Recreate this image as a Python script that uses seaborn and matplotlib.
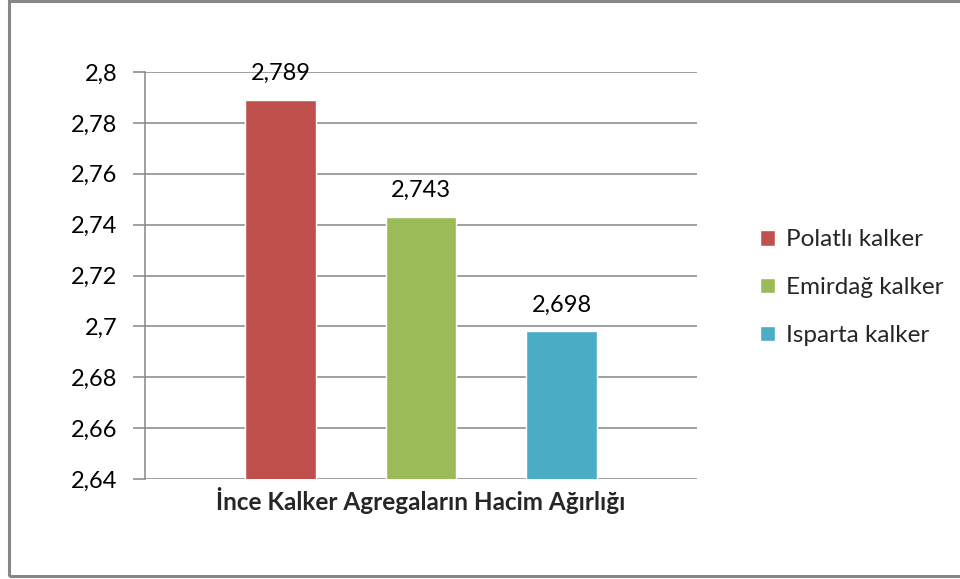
import matplotlib
matplotlib.use("Agg")
import matplotlib.pyplot as plt
from matplotlib.patches import Rectangle
from matplotlib.ticker import FuncFormatter, MultipleLocator
import seaborn as sns
import pandas as pd

category = "İnce Kalker Agregaların Hacim Ağırlığı"
series = ["Polatlı kalker", "Emirdağ kalker", "Isparta kalker"]
values = [2.789, 2.743, 2.698]
colors = ["#C0504D", "#9BBB59", "#4BACC6"]

df = pd.DataFrame({"grup": [category] * len(series), "seri": series, "deger": values})

sns.set_theme(style="white")
plt.rcParams["font.family"] = ["Lato", "DejaVu Sans"]

fig = plt.figure(figsize=(9.6, 5.79), dpi=100)
ax = fig.add_axes([0.151, 0.1727, 0.575, 0.7029])

sns.barplot(data=df, x="grup", y="deger", hue="seri", palette=colors,
            width=0.764, gap=0.5, ax=ax, legend=True, saturation=1)

ax.set_ylim(2.64, 2.8)
ax.set_xlim(-0.5, 0.5)
ax.yaxis.set_major_locator(MultipleLocator(0.02))
fmt = lambda v, p: ("%g" % round(v, 4)).replace(".", ",")
ax.yaxis.set_major_formatter(FuncFormatter(fmt))
ax.grid(axis="y", color="#868686", linewidth=1.1)
ax.set_axisbelow(True)
for s in ["top", "right", "bottom"]:
    ax.spines[s].set_visible(False)
ax.spines["left"].set_color("#868686")
ax.spines["left"].set_linewidth(1.1)
ax.tick_params(axis="y", left=True, length=9, width=1.1, color="#868686",
               labelsize=17, pad=11, labelcolor="#000000")
ax.tick_params(axis="x", bottom=False, labelsize=17.5, pad=0)
ax.set_xticks([0])
ax.set_xticklabels([category], fontweight="bold")
ax.set_xlabel("")
ax.set_ylabel("")

for cont in ax.containers:
    for bar, v in zip(cont, cont.datavalues):
        ax.annotate(("%g" % v).replace(".", ","),
                    (bar.get_x() + bar.get_width() / 2, v),
                    xytext=(0, 19), textcoords="offset points",
                    ha="center", va="center", fontsize=17, color="#000000")

handles, labels = ax.get_legend_handles_labels()
ax.legend(handles, labels, loc="center left", bbox_to_anchor=(1.075, 0.47),
          frameon=False, fontsize=17.5, handlelength=0.6, handleheight=0.6,
          handletextpad=0.45, labelspacing=1.1)

fig.patches.append(Rectangle((9 / 960, 3 / 579), 1.0, 575 / 579,
                             transform=fig.transFigure, fill=False,
                             edgecolor="#878787", linewidth=2.2))

fig.savefig("out.png", dpi=100, facecolor="white")
